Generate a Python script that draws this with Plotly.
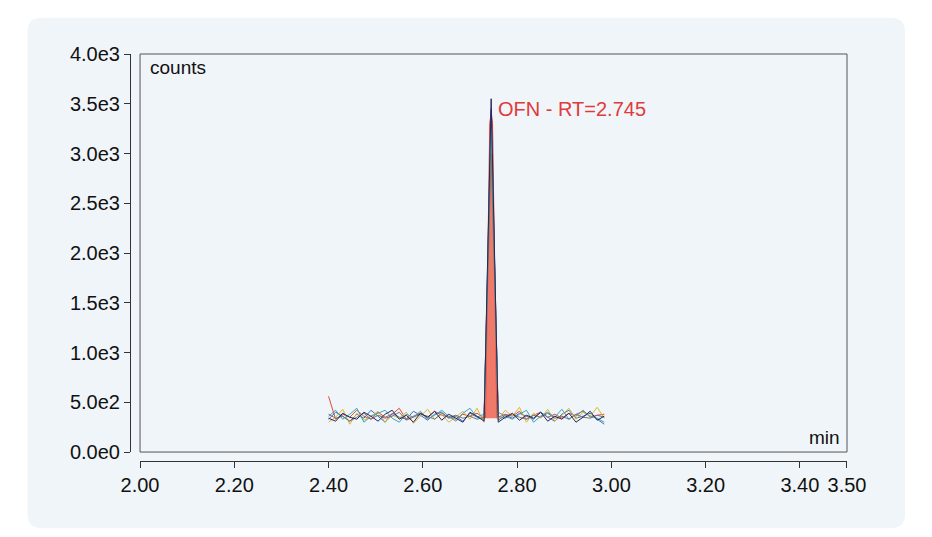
import plotly.graph_objects as go

rt = [round(2.40 + 0.015 * i, 3) for i in range(40)]  # retention time grid (min)

s_red    = [560,330,380,350,420,360,330,400,350,380,440,330,360,390,340,410,370,350,330,380,360,390,340,3300,350,380,360,410,330,370,400,350,380,340,390,360,420,350,370,380]
s_blue   = [330,400,360,310,380,340,420,360,300,390,350,330,410,370,320,380,400,340,360,310,390,350,330,3450,320,370,340,390,360,330,400,350,310,380,420,340,360,390,330,280]
s_yellow = [300,350,430,280,390,320,360,410,300,370,340,400,290,360,430,330,380,300,350,410,330,440,300,3200,330,420,360,450,300,390,340,430,310,370,440,330,400,360,450,340]
s_teal   = [360,420,330,380,440,300,360,390,420,340,300,380,350,410,330,370,420,360,310,390,440,350,380,3250,400,360,330,380,420,300,360,400,350,430,330,380,410,360,340,300]
s_navy   = [340,310,390,350,330,400,360,310,380,420,330,370,300,390,350,410,320,380,340,300,400,360,310,3550,300,350,390,320,370,340,400,310,360,330,390,300,350,410,320,360]
s_gray   = [380,340,360,310,350,390,330,370,340,360,400,320,350,380,360,330,390,350,370,340,360,330,350,3000,360,340,380,350,330,370,350,390,340,360,330,380,350,340,370,350]

peak_x = [2.733, 2.742, 2.745, 2.748, 2.757]
peak_y = [340, 3300, 3420, 3300, 340]

series = [
    ("red", s_red, "#e8463a"), ("blue", s_blue, "#3a6fc4"), ("yellow", s_yellow, "#e3b52a"),
    ("teal", s_teal, "#3aa6b8"), ("gray", s_gray, "#777777"), ("navy", s_navy, "#27275a"),
]

fig = go.Figure()
fig.add_trace(go.Scatter(x=peak_x, y=peak_y, fill="toself", mode="lines",
                         line=dict(color="#e8463a", width=1), fillcolor="rgba(240,100,80,0.85)",
                         showlegend=False, hoverinfo="skip"))
for name, ys, c in series:
    fig.add_trace(go.Scatter(x=rt, y=ys, mode="lines", name=name,
                             line=dict(color=c, width=1), showlegend=False))

fig.add_annotation(x=2.756, y=3450, text="OFN - RT=2.745", showarrow=False, xanchor="left",
                   font=dict(color="#e03a3a", size=20))
fig.add_annotation(x=0, y=1, xref="x domain", yref="y domain", text="counts", showarrow=False,
                   xanchor="left", yanchor="top", xshift=8, yshift=-1, font=dict(size=19, color="#111"))
fig.add_annotation(x=1, y=0, xref="x domain", yref="y domain", text="min", showarrow=False,
                   xanchor="right", yanchor="bottom", xshift=-5, yshift=2, font=dict(size=19, color="#111"))

# rounded background panel (paper coords)
x0, x1, y0, y1 = -0.143, 1.081, -0.165, 1.089
rx, ry = 0.02, 0.035
panel = (f"M {x0+rx},{y0} L {x1-rx},{y0} Q {x1},{y0} {x1},{y0+ry} L {x1},{y1-ry} Q {x1},{y1} {x1-rx},{y1} "
         f"L {x0+rx},{y1} Q {x0},{y1} {x0},{y1-ry} L {x0},{y0+ry} Q {x0},{y0} {x0+rx},{y0} Z")
fig.add_shape(type="path", path=panel, xref="paper", yref="paper",
              line=dict(width=0), fillcolor="#f0f5f9", layer="below")
fig.add_shape(type="rect", xref="x domain", yref="y domain", x0=0, x1=1, y0=0, y1=1,
              line=dict(color="#555", width=1))

fig.update_layout(
    width=932, height=537, margin=dict(l=122, r=93, t=46, b=84),
    paper_bgcolor="white", plot_bgcolor="#f0f5f9",
    font=dict(family="Liberation Sans, Arial, sans-serif", size=20, color="#111"),
    xaxis=dict(range=[2.0, 3.5], domain=[0.014, 1], anchor="free", position=0,
               tickvals=[2.0, 2.2, 2.4, 2.6, 2.8, 3.0, 3.2, 3.4, 3.5],
               ticktext=["2.00", "2.20", "2.40", "2.60", "2.80", "3.00", "3.20", "3.40", "3.50"],
               showgrid=False, zeroline=False, showline=True, linecolor="#333", ticks="outside",
               ticklen=6, tickcolor="#333"),
    yaxis=dict(range=[0, 4000], domain=[0.022, 1], anchor="free", position=0,
               tickvals=[0, 500, 1000, 1500, 2000, 2500, 3000, 3500, 4000],
               ticktext=["0.0e0", "5.0e2", "1.0e3", "1.5e3", "2.0e3", "2.5e3", "3.0e3", "3.5e3", "4.0e3"],
               showgrid=False, zeroline=False, showline=True, linecolor="#333", ticks="outside",
               ticklen=6, tickcolor="#333"),
)
fig.write_html("out.html")
